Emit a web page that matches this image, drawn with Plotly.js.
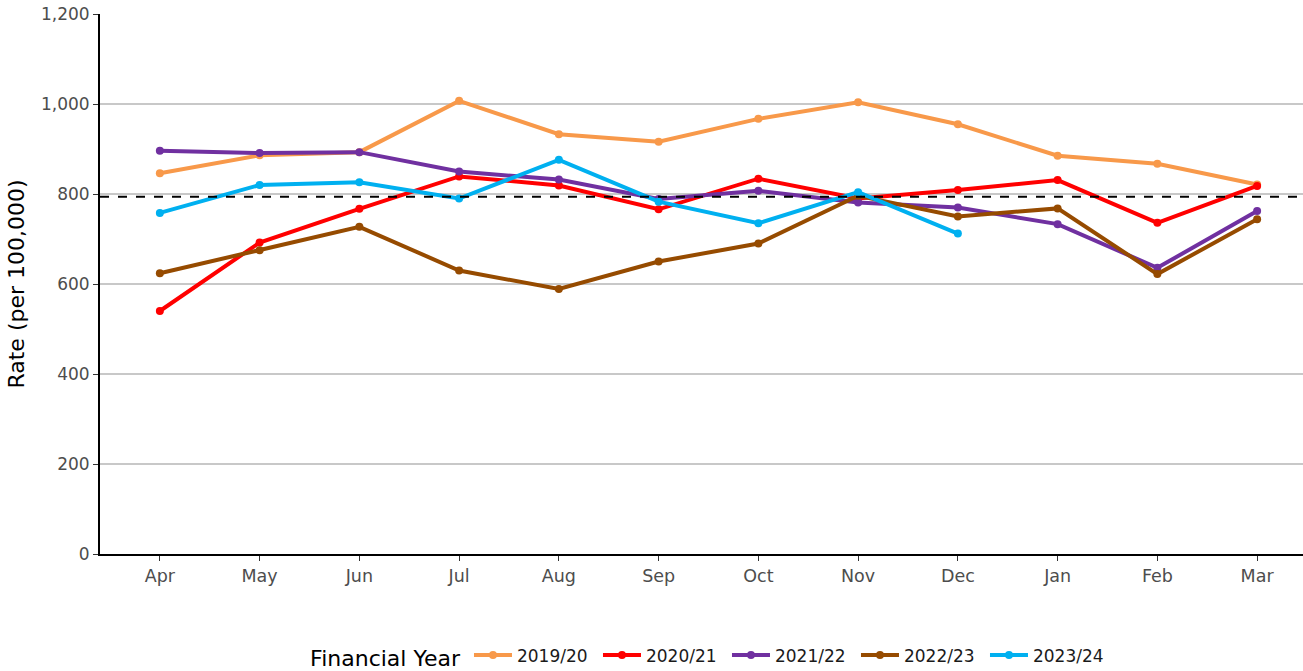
<!DOCTYPE html>
<html><head><meta charset="utf-8">
<script src="https://cdn.plot.ly/plotly-3.0.1.min.js"></script>
<style>html,body{margin:0;padding:0;background:#fff}#chart{width:1303px;height:671px}</style>
</head><body><div id="chart"></div>
<script>
const months = ["Apr","May","Jun","Jul","Aug","Sep","Oct","Nov","Dec","Jan","Feb","Mar"];
const fy1920 = [846,886,893,1007,933,916,967,1004,955,885,867,821];
const fy2021 = [540,692,767,839,819,766,834,790,809,831,736,818];
const fy2122 = [896,891,893,850,832,789,807,781,770,733,636,762];
const fy2223 = [624,675,727,630,589,650,690,796,750,768,622,744];
const fy2324 = [758,820,826,790,876,783,735,804,712];
const seriesNames = ["2019/20","2020/21","2021/22","2022/23","2023/24"];
const seriesColors = ["#F8994A","#FF0000","#7030A0","#964B00","#00B0F0"];
const average = 794;

const allSeries = [fy1920, fy2021, fy2122, fy2223, fy2324];
const traces = allSeries.map((vals, i) => ({
  type: "scatter", mode: "lines+markers",
  x: months.slice(0, vals.length), y: vals, name: seriesNames[i],
  line: {color: seriesColors[i], width: 4},
  marker: {color: seriesColors[i], size: 8}
}));

const layout = {
  width: 1303, height: 671,
  margin: {l: 100, r: 0, t: 14, b: 117, autoexpand: false},
  paper_bgcolor: "#fff", plot_bgcolor: "#fff",
  font: {family: "DejaVu Sans", color: "#4d4d4d"},
  showlegend: true,
  legend: {
    orientation: "h", x: 0.508, xanchor: "center", y: -0.1907, yanchor: "middle",
    title: {text: "Financial Year", font: {size: 22, color: "#000"}, side: "left"},
    font: {size: 17, color: "#1a1a1a"}, itemwidth: 38,
    entrywidth: 76, entrywidthmode: "pixels"
  },
  xaxis: {
    type: "category", categoryorder: "array", categoryarray: months,
    range: [-0.6, 11.46], showgrid: false, zeroline: false,
    showline: true, linecolor: "#000", linewidth: 2,
    ticks: "outside", ticklen: 5, tickcolor: "#333", tickwidth: 1,
    tickfont: {size: 17.5, color: "#4d4d4d"}
  },
  yaxis: {
    range: [0, 1200], tickvals: [0,200,400,600,800,1000,1200],
    tickformat: ",d", showgrid: true, gridcolor: "#c8c8c8", gridwidth: 2,
    zeroline: false, showline: true, linecolor: "#000", linewidth: 2,
    ticks: "outside", ticklen: 5, tickcolor: "#333", tickwidth: 1,
    tickfont: {size: 17, color: "#4d4d4d"},
    title: {text: "Rate (per 100,000)", font: {size: 22, color: "#000"}, standoff: 10}
  },
  shapes: [{
    type: "line", xref: "paper", x0: 0, x1: 1, yref: "y", y0: average, y1: average,
    line: {color: "#000", width: 2, dash: "dash"}
  }]
};

Plotly.newPlot("chart", traces, layout, {displayModeBar: false});
</script></body></html>
